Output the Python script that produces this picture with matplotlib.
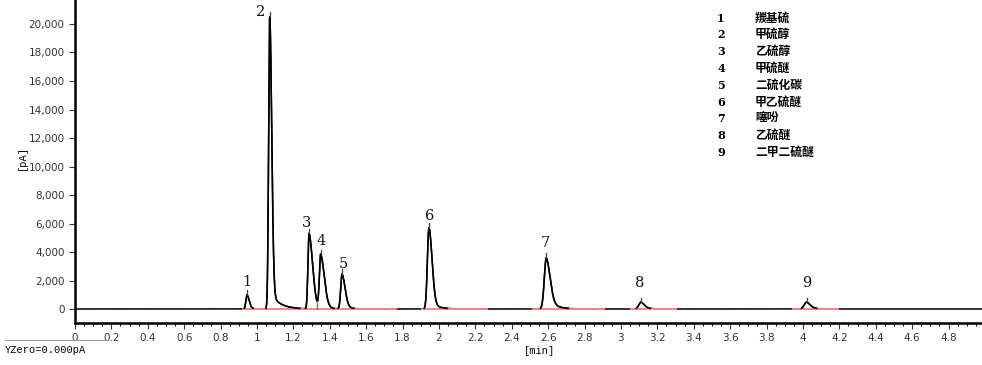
import numpy as np
import matplotlib
matplotlib.use("Agg")
import matplotlib.pyplot as plt
from matplotlib.ticker import MultipleLocator, FuncFormatter

# ---- data ----
peak_ids = ["1", "2", "3", "4", "5", "6", "7", "8", "9"]
peak_names = ["羰基硫", "甲硫醇", "乙硫醇", "甲硫醚", "二硫化碳", "甲乙硫醚", "噻吩", "乙硫醚", "二甲二硫醚"]
ret_times = [0.945, 1.070, 1.286, 1.350, 1.467, 1.945, 2.590, 3.110, 4.020]   # min
heights = [1000, 20500, 5300, 3800, 2450, 5700, 3600, 480, 480]               # pA
# peak shape parameters (left sigma, right sigma, tail fraction, tail constant)
sigma_left = [0.006, 0.006, 0.006, 0.007, 0.007, 0.0085, 0.011, 0.012, 0.013]
sigma_right = [0.012, 0.011, 0.020, 0.020, 0.017, 0.017, 0.021, 0.018, 0.020]
tail_frac = [0.15, 0.06, 0.10, 0.12, 0.15, 0.10, 0.25, 0.30, 0.30]
tail_tau = [0.02, 0.05, 0.02, 0.03, 0.03, 0.04, 0.04, 0.04, 0.04]
# integration baselines (start, end) in min
baseline_segments = [(0.92, 1.77), (1.90, 2.27), (2.51, 2.91), (3.05, 3.31), (3.94, 4.20)]
valley_time = 1.33
y_ticks = list(range(0, 20001, 2000))
x_ticks = [round(0.2 * i, 1) for i in range(25)]


def peak(t, t0, h, sl, sr, f, tau):
    dt = t - t0
    left = np.exp(-dt ** 2 / (2 * sl ** 2))
    right = (1 - f) * np.exp(-dt ** 2 / (2 * sr ** 2)) + f * np.exp(-np.clip(dt, 0, None) / tau)
    return h * np.where(dt < 0, left, right)


t = np.linspace(0, 4.984, 8000)
signal = np.zeros_like(t)
for i in range(len(ret_times)):
    signal += peak(t, ret_times[i], heights[i], sigma_left[i], sigma_right[i], tail_frac[i], tail_tau[i])

fig = plt.figure(figsize=(9.82, 3.65), dpi=100)
ax = fig.add_axes([75 / 982, 42 / 365, 1 - 75 / 982, 1 - 42 / 365])

# full trace (baseline portion) under the integration baselines
ax.plot(t, signal, color="black", lw=1.1, zorder=2)
for s, e in baseline_segments:
    ax.plot([s, e], [0, 0], color="#e98a8c", lw=1.4, solid_capstyle="butt", zorder=2.5)
# peak portions of the trace drawn on top
peak_part = np.where(signal > 45, signal, np.nan)
ax.plot(t, peak_part, color="black", lw=1.1, zorder=3)

# valley marker
vi = np.argmin(np.abs(t - valley_time))
ax.plot([valley_time, valley_time], [0, signal[vi]], color="#3aa63a", lw=1.0, zorder=4)

# apex markers and peak labels
label_dx = [0.0, -0.048, -0.016, 0.002, 0.006, 0.005, -0.007, -0.005, 0.0]
label_dy = [900, 340, 700, 900, 680, 830, 1030, 1350, 1350]
for i in range(len(ret_times)):
    ti = ret_times[i]
    hi = signal[np.argmin(np.abs(t - ti))]
    ax.plot([ti, ti], [hi, hi + 320], color="#2a3c8c", lw=0.9, zorder=4)
    ax.text(ti + label_dx[i], hi + label_dy[i], peak_ids[i], ha="center", va="center",
            fontsize=10.5, family="DejaVu Serif", color="#111111")

ax.set_xlim(0, 4.984)
ax.set_ylim(-982, 21684)
ax.set_xticks(x_ticks)
ax.xaxis.set_minor_locator(MultipleLocator(0.05))
ax.set_yticks(y_ticks)
ax.xaxis.set_major_formatter(FuncFormatter(lambda v, p: f"{v:g}"))
ax.yaxis.set_major_formatter(FuncFormatter(lambda v, p: f"{int(v):,}"))
ax.tick_params(axis="both", labelsize=7.5, colors="#333333", length=4, width=0.8)
ax.tick_params(axis="x", which="minor", length=2.5, width=0.8)
for sp in ["top", "right"]:
    ax.spines[sp].set_visible(False)
for sp in ["left", "bottom"]:
    ax.spines[sp].set_linewidth(1.8)

fig.text(22 / 982, 1 - 158 / 365, "[pA]", rotation=90, ha="center", va="center",
         fontsize=7.5, family="Liberation Mono")
fig.text(540 / 982, 1 - 351 / 365, "[min]", ha="center", va="center",
         fontsize=7.5, family="Liberation Mono")
fig.text(5 / 982, 1 - 350 / 365, "YZero=0.000pA", ha="left", va="center",
         fontsize=7.5, family="Liberation Mono")
fig.add_artist(plt.Line2D([5 / 982, 107 / 982], [1 - 340 / 365, 1 - 340 / 365],
                          color="#999999", lw=0.8))

# legend table
for i in range(len(peak_ids)):
    y = 1 - (18 + i * 16.8) / 365
    fig.text(717 / 982, y, peak_ids[i], ha="left", va="center", fontsize=8,
             fontweight="bold", family="DejaVu Serif")
    fig.text(755 / 982, y, peak_names[i], ha="left", va="center", fontsize=8.5,
             fontweight="bold", family=["Noto Sans CJK SC", "DejaVu Sans"])

fig.savefig("out.png", dpi=100)
